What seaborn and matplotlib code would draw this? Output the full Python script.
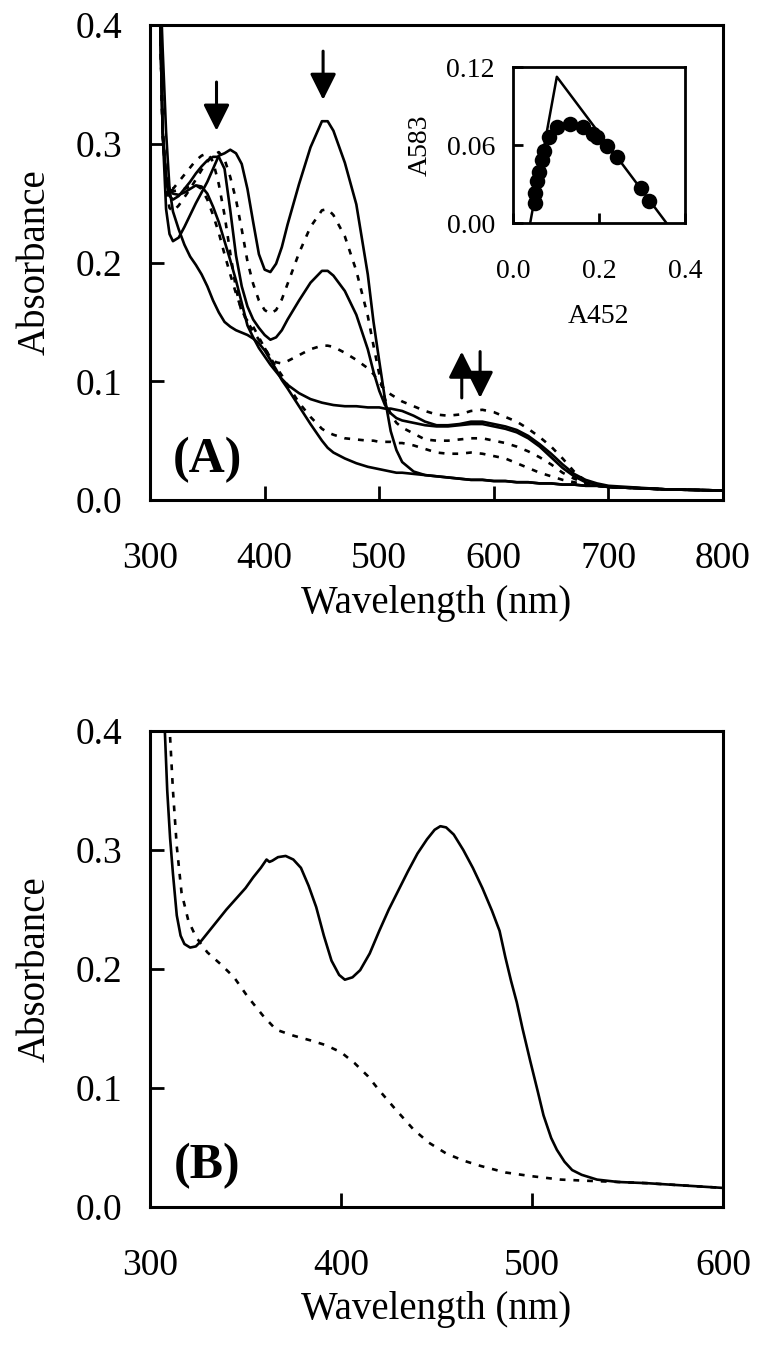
import matplotlib
matplotlib.use("Agg")
import numpy as np
import pandas as pd
import seaborn as sns
import matplotlib.pyplot as plt

# ---- panel A: titration spectra (nm, absorbance) ----
wl_a = [305, 308, 311, 314, 317, 320, 325, 330, 335, 340,
        345, 350, 355, 360, 365, 370, 375, 380, 385, 390,
        395, 400, 405, 410, 415, 420, 430, 440, 450, 455,
        460, 470, 480, 490, 495, 500, 505, 510, 515, 520,
        530, 540, 550, 560, 570, 580, 590, 600, 610, 620,
        630, 640, 650, 660, 670, 680, 690, 700, 750, 800]

s1 = [0.60, 0.44, 0.31, 0.245, 0.224, 0.218, 0.221, 0.230, 0.240, 0.250,
      0.259, 0.268, 0.279, 0.290, 0.292, 0.295, 0.292, 0.283, 0.262, 0.234,
      0.207, 0.194, 0.192, 0.199, 0.213, 0.232, 0.266, 0.297, 0.319, 0.319,
      0.311, 0.284, 0.249, 0.190, 0.150, 0.117, 0.085, 0.058, 0.042, 0.032,
      0.024, 0.021, 0.020, 0.019, 0.018, 0.017, 0.017, 0.016, 0.016, 0.015,
      0.015, 0.014, 0.014, 0.013, 0.013, 0.012, 0.012, 0.011, 0.009, 0.008]
d1 = [0.60, 0.44, 0.31, 0.262, 0.246, 0.243, 0.248, 0.255, 0.262, 0.270,
      0.278, 0.285, 0.290, 0.293, 0.287, 0.272, 0.253, 0.228, 0.201, 0.182,
      0.168, 0.160, 0.157, 0.160, 0.169, 0.182, 0.208, 0.230, 0.244, 0.245,
      0.240, 0.222, 0.193, 0.155, 0.130, 0.106, 0.085, 0.072, 0.065, 0.061,
      0.056, 0.051, 0.050, 0.050, 0.051, 0.052, 0.052, 0.050, 0.048, 0.045,
      0.041, 0.036, 0.030, 0.023, 0.018, 0.014, 0.012, 0.011, 0.009, 0.008]
s2 = [0.60, 0.44, 0.31, 0.268, 0.256, 0.253, 0.256, 0.262, 0.268, 0.275,
      0.281, 0.286, 0.289, 0.289, 0.279, 0.244, 0.206, 0.180, 0.163, 0.152,
      0.145, 0.139, 0.135, 0.137, 0.143, 0.152, 0.168, 0.183, 0.193, 0.193,
      0.189, 0.176, 0.156, 0.127, 0.108, 0.092, 0.080, 0.073, 0.069, 0.067,
      0.065, 0.063, 0.062, 0.062, 0.063, 0.064, 0.064, 0.062, 0.060, 0.057,
      0.052, 0.045, 0.036, 0.027, 0.020, 0.015, 0.013, 0.011, 0.009, 0.008]
d2 = [0.60, 0.44, 0.31, 0.272, 0.263, 0.262, 0.268, 0.274, 0.280, 0.286,
      0.290, 0.292, 0.285, 0.266, 0.240, 0.208, 0.178, 0.158, 0.151, 0.146,
      0.137, 0.128, 0.120, 0.116, 0.115, 0.117, 0.122, 0.127, 0.130, 0.130,
      0.129, 0.124, 0.118, 0.111, 0.106, 0.099, 0.093, 0.089, 0.086, 0.083,
      0.079, 0.075, 0.072, 0.071, 0.072, 0.075, 0.076, 0.074, 0.070, 0.066,
      0.060, 0.053, 0.045, 0.035, 0.024, 0.016, 0.013, 0.011, 0.009, 0.008]
s3 = [0.60, 0.44, 0.31, 0.272, 0.262, 0.258, 0.257, 0.259, 0.262, 0.265,
      0.264, 0.258, 0.247, 0.234, 0.218, 0.202, 0.185, 0.166, 0.147, 0.137,
      0.128, 0.121, 0.114, 0.108, 0.102, 0.097, 0.090, 0.085, 0.082, 0.081,
      0.080, 0.079, 0.079, 0.078, 0.078, 0.078, 0.077, 0.077, 0.076, 0.075,
      0.071, 0.066, 0.063, 0.063, 0.064, 0.066, 0.066, 0.064, 0.062, 0.059,
      0.054, 0.047, 0.039, 0.030, 0.022, 0.017, 0.014, 0.012, 0.009, 0.008]
d3 = [0.60, 0.44, 0.31, 0.270, 0.262, 0.260, 0.261, 0.262, 0.264, 0.265,
      0.262, 0.253, 0.240, 0.225, 0.207, 0.190, 0.174, 0.160, 0.150, 0.142,
      0.135, 0.128, 0.120, 0.112, 0.105, 0.097, 0.082, 0.070, 0.060, 0.057,
      0.055, 0.052, 0.051, 0.050, 0.050, 0.049, 0.049, 0.049, 0.048, 0.048,
      0.046, 0.043, 0.040, 0.039, 0.039, 0.040, 0.039, 0.037, 0.035, 0.031,
      0.027, 0.023, 0.020, 0.017, 0.015, 0.013, 0.012, 0.011, 0.009, 0.008]
s4 = [0.60, 0.46, 0.38, 0.310, 0.262, 0.243, 0.228, 0.215, 0.205, 0.198,
      0.190, 0.180, 0.168, 0.158, 0.150, 0.146, 0.143, 0.141, 0.139, 0.136,
      0.132, 0.126, 0.118, 0.110, 0.101, 0.094, 0.079, 0.064, 0.050, 0.044,
      0.040, 0.035, 0.031, 0.028, 0.027, 0.026, 0.025, 0.024, 0.023, 0.023,
      0.022, 0.021, 0.020, 0.019, 0.018, 0.017, 0.017, 0.016, 0.016, 0.015,
      0.015, 0.014, 0.014, 0.013, 0.013, 0.012, 0.012, 0.011, 0.009, 0.008]

curves_a = {"s1": s1, "d1": d1, "s2": s2, "d2": d2, "s3": s3, "d3": d3, "s4": s4}

# ---- inset: A583 vs A452 ----
a452 = [0.051, 0.052, 0.057, 0.061, 0.067, 0.072, 0.084, 0.103,
        0.133, 0.164, 0.187, 0.195, 0.218, 0.243, 0.298, 0.317]
a583 = [0.0156, 0.0228, 0.0326, 0.0395, 0.0485, 0.0554, 0.0664, 0.0736,
        0.0759, 0.0741, 0.0682, 0.0659, 0.0595, 0.0510, 0.0267, 0.0169]
fit_x = [0.040, 0.102, 0.357]
fit_y = [0.0, 0.1125, 0.0]

# ---- panel B: two spectra ----
wl_b_solid = [307.5, 309, 310.5, 312, 314, 316, 318, 321, 324, 327,
              331, 335, 340, 345, 350, 354, 358, 361, 362.5, 364,
              367, 371, 375, 379, 383, 387, 391, 395, 399, 402,
              406, 410, 415, 420, 425, 430, 435, 440, 445, 449,
              452, 455, 459, 464, 469, 474, 479, 483, 486, 489,
              492, 495, 499, 503, 506, 510, 513, 517, 521, 526,
              534, 545, 560, 580, 600]
b_solid = [0.41, 0.35, 0.31, 0.28, 0.245, 0.228, 0.221, 0.218, 0.219, 0.224,
           0.232, 0.240, 0.250, 0.259, 0.268, 0.277, 0.285, 0.292, 0.290, 0.291,
           0.294, 0.295, 0.292, 0.285, 0.270, 0.252, 0.228, 0.207, 0.195, 0.191,
           0.193, 0.199, 0.213, 0.232, 0.250, 0.266, 0.282, 0.297, 0.309, 0.317,
           0.320, 0.319, 0.313, 0.300, 0.285, 0.268, 0.249, 0.232, 0.210, 0.190,
           0.172, 0.150, 0.123, 0.097, 0.077, 0.058, 0.048, 0.038, 0.031, 0.027,
           0.023, 0.021, 0.020, 0.018, 0.016]
wl_b_dot = [310.5, 312, 314, 316.5, 320, 324, 330, 337, 344, 351,
            359, 366, 375, 384, 392, 400, 407, 414, 420, 428,
            438, 446, 455, 464, 473, 486, 499, 515, 529, 545,
            560, 580, 600]
b_dot = [0.395, 0.350, 0.303, 0.264, 0.241, 0.227, 0.214, 0.204, 0.193, 0.177,
         0.161, 0.149, 0.144, 0.140, 0.136, 0.130, 0.121, 0.110, 0.098, 0.083,
         0.065, 0.054, 0.045, 0.039, 0.0345, 0.029, 0.026, 0.023, 0.022, 0.021,
         0.020, 0.018, 0.016]

# arrows: (wavelength, tail, head)
arrows_a = [(358, 0.352, 0.311), (451, 0.378, 0.337),
            (572, 0.086, 0.125), (588, 0.125, 0.086)]

sns.set_theme(style="ticks")
plt.rcParams["font.family"] = ["Liberation Serif", "DejaVu Serif"]
plt.rcParams["axes.linewidth"] = 2.2
plt.rcParams["axes.edgecolor"] = "black"
plt.rcParams["text.color"] = "black"
plt.rcParams["axes.labelcolor"] = "black"
plt.rcParams["xtick.color"] = "black"
plt.rcParams["ytick.color"] = "black"

dash_map = {"solid": "", "dotted": (2.2, 3.0)}
LW = 1.9

fig = plt.figure(figsize=(7.62, 13.46), dpi=100)
ax_a = fig.add_axes([0.1969, 0.6285, 0.752, 0.3529])
ax_b = fig.add_axes([0.1969, 0.1033, 0.752, 0.3536])
ax_in = fig.add_axes([0.6732, 0.8343, 0.2257, 0.1159])

# panel A
rows = []
for name, vals in curves_a.items():
    kind = "solid" if name.startswith("s") else "dotted"
    for w, v in zip(wl_a, vals):
        rows.append((name, kind, w, v))
df_a = pd.DataFrame(rows, columns=["curve", "kind", "wl", "absorb"])
sns.lineplot(data=df_a, x="wl", y="absorb", units="curve", style="kind",
             dashes=dash_map, estimator=None, sort=False, color="black",
             lw=LW, legend=False, ax=ax_a)

for w, y0, y1 in arrows_a:
    ax_a.annotate("", xy=(w, y1), xytext=(w, y0),
                  arrowprops=dict(arrowstyle="-|>,head_length=0.8,head_width=0.4",
                                  color="black", lw=2.2, mutation_scale=20,
                                  shrinkA=0, shrinkB=0))

# panel B
df_b = pd.concat([
    pd.DataFrame({"curve": "solid", "kind": "solid", "wl": wl_b_solid, "absorb": b_solid}),
    pd.DataFrame({"curve": "dot", "kind": "dotted", "wl": wl_b_dot, "absorb": b_dot}),
])
sns.lineplot(data=df_b, x="wl", y="absorb", units="curve", style="kind",
             dashes=dash_map, estimator=None, sort=False, color="black",
             lw=LW, legend=False, ax=ax_b)

for ax, xmax, xticks, tag in [(ax_a, 800, [300, 400, 500, 600, 700, 800], "(A)"),
                              (ax_b, 600, [300, 400, 500, 600], "(B)")]:
    ax.set_xlim(300, xmax)
    ax.set_ylim(0, 0.4)
    ax.set_xticks(xticks)
    ax.set_yticks([0.0, 0.1, 0.2, 0.3, 0.4])
    ax.set_yticklabels(["0.0", "0.1", "0.2", "0.3", "0.4"])
    ax.tick_params(axis="both", direction="in", length=10, width=2,
                   labelsize=27, colors="black")
    ax.tick_params(axis="x", pad=30)
    ax.tick_params(axis="y", pad=20)
    ax.set_xlabel("Wavelength (nm)", fontsize=28, labelpad=6)
    ax.set_ylabel("Absorbance", fontsize=28, labelpad=16)
    for sp in ax.spines.values():
        sp.set_visible(True)
        sp.set_linewidth(2.2)
    ax.text(0.10, 0.085, tag, transform=ax.transAxes, ha="center", va="center",
            fontsize=36, fontweight="bold")

# inset
ax_in.set_facecolor("white")
sns.lineplot(x=fit_x, y=fit_y, color="black", lw=1.8, sort=False,
             estimator=None, ax=ax_in)
sns.scatterplot(x=a452, y=a583, color="black", s=125, edgecolor="black",
                linewidth=0, ax=ax_in, zorder=3)
ax_in.set_xlim(0, 0.4)
ax_in.set_ylim(0, 0.12)
ax_in.set_xticks([0.0, 0.2, 0.4])
ax_in.set_xticklabels(["0.0", "0.2", "0.4"])
ax_in.set_yticks([0.0, 0.06, 0.12])
ax_in.set_yticklabels(["0.00", "0.06", "0.12"])
ax_in.tick_params(axis="both", direction="in", length=7, width=2,
                  labelsize=20, colors="black")
ax_in.tick_params(axis="x", pad=26)
ax_in.tick_params(axis="y", pad=13)
ax_in.set_xlabel("A452", fontsize=20, labelpad=14)
ax_in.set_ylabel("A583", fontsize=20, labelpad=10)
for sp in ax_in.spines.values():
    sp.set_visible(True)
    sp.set_linewidth(2.0)

fig.savefig("out.png", dpi=100)
